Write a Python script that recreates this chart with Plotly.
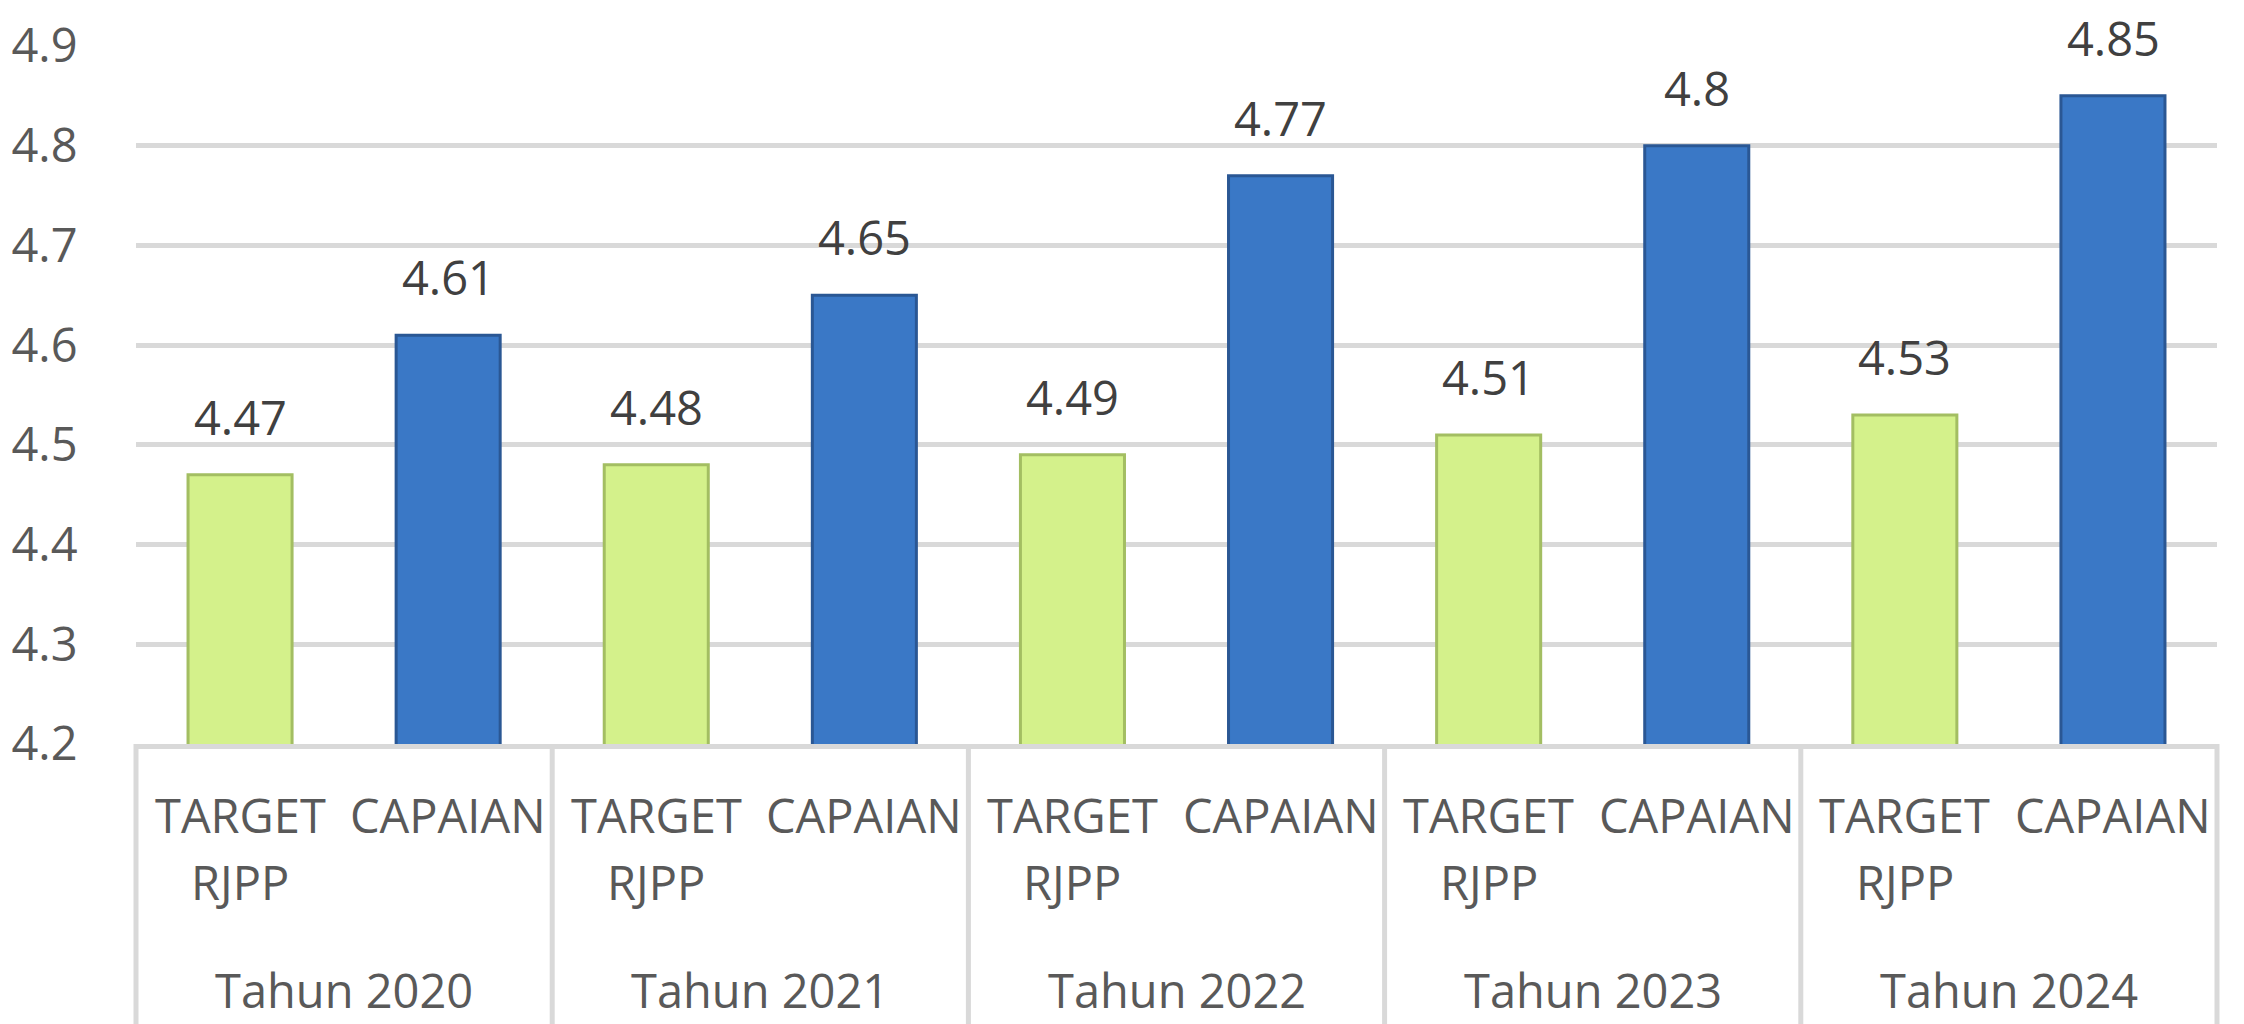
import plotly.graph_objects as go

years = ["Tahun 2020", "Tahun 2021", "Tahun 2022", "Tahun 2023", "Tahun 2024"]
target_rjpp = [4.47, 4.48, 4.49, 4.51, 4.53]
capaian = [4.61, 4.65, 4.77, 4.80, 4.85]
y_ticks = [4.2, 4.3, 4.4, 4.5, 4.6, 4.7, 4.8, 4.9]

FONT = "Open Sans"
GRID = "#D9D9D9"

fig = go.Figure()
fig.add_trace(go.Bar(
    x=years, y=target_rjpp, name="TARGET RJPP",
    width=0.25, offset=-0.375,
    marker=dict(color="#D4F18B", line=dict(color="#A3BE62", width=3)),
))
fig.add_trace(go.Bar(
    x=years, y=capaian, name="CAPAIAN",
    width=0.25, offset=0.125,
    marker=dict(color="#3A78C6", line=dict(color="#2A5794", width=3)),
))

annotations = []
GW = 416.4  # approx pixel width per category
for yr, t, c in zip(years, target_rjpp, capaian):
    for val, shift in ((t, -GW / 4), (c, GW / 4)):
        annotations.append(dict(
            x=yr, y=val, xref="x", yref="y", text=f"{val:g}", showarrow=False,
            xshift=shift, yshift=58, yanchor="middle",
            font=dict(family=FONT, size=47, color="#404040"),
        ))
    annotations.append(dict(
        x=yr, y=0, xref="x", yref="paper", text="TARGET", showarrow=False,
        xshift=-GW / 4, yshift=-71, yanchor="middle",
        font=dict(family=FONT, size=47, color="#595959"),
    ))
    annotations.append(dict(
        x=yr, y=0, xref="x", yref="paper", text="RJPP", showarrow=False,
        xshift=-GW / 4, yshift=-138, yanchor="middle",
        font=dict(family=FONT, size=47, color="#595959"),
    ))
    annotations.append(dict(
        x=yr, y=0, xref="x", yref="paper", text="CAPAIAN", showarrow=False,
        xshift=GW / 4, yshift=-71, yanchor="middle",
        font=dict(family=FONT, size=47, color="#595959"),
    ))
    annotations.append(dict(
        x=yr, y=0, xref="x", yref="paper", text=yr, showarrow=False,
        yshift=-246, yanchor="middle",
        font=dict(family=FONT, size=47, color="#595959"),
    ))

shapes = []
n = len(years)
for i in range(n + 1):
    shapes.append(dict(
        type="line", xref="paper", yref="paper",
        x0=i / n, x1=i / n, y0=0, y1=-0.5,
        line=dict(color=GRID, width=5), layer="below",
    ))

fig.update_layout(
    width=2244, height=1024,
    margin=dict(l=135, r=27, t=43, b=280),
    plot_bgcolor="white", paper_bgcolor="white",
    barmode="overlay",
    showlegend=False,
    annotations=annotations,
    shapes=shapes,
    font=dict(family=FONT, size=47, color="#595959"),
)
fig.update_xaxes(
    type="category", categoryorder="array", categoryarray=years,
    range=[-0.5, len(years) - 0.5],
    showticklabels=False, showgrid=False, ticks="",
    showline=True, linecolor=GRID, linewidth=5,
)
fig.update_yaxes(
    range=[4.2, 4.9], tickvals=y_ticks, ticktext=[f"{v:.1f}" for v in y_ticks],
    showgrid=True, gridcolor=GRID, gridwidth=5,
    zeroline=False, showline=False,
    ticks="outside", ticklen=0, ticklabelstandoff=48,
    tickfont=dict(family=FONT, size=47, color="#595959"),
)

fig.write_html(
    "out.html",
    config={"displayModeBar": False},
    post_script="document.body.style.margin='0';document.body.style.overflow='hidden';",
)
